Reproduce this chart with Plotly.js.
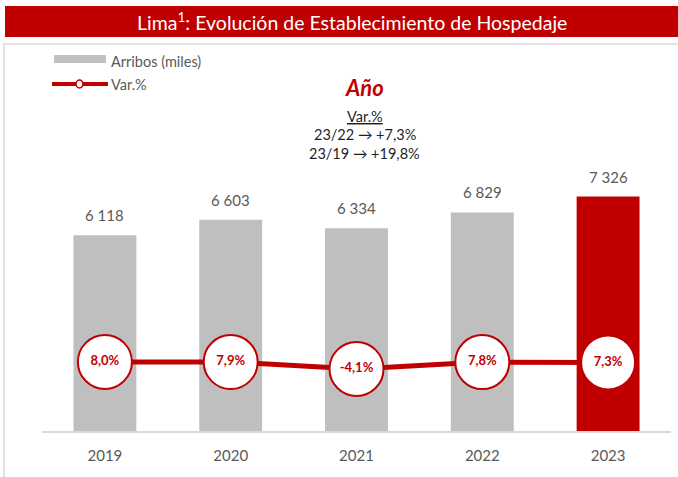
<!DOCTYPE html>
<html>
<head>
<meta charset="utf-8">
<script src="https://cdn.plot.ly/plotly-3.0.1.min.js"></script>
<style>html,body{margin:0;padding:0;background:#fff;}#chart{width:678px;height:477px;}</style>
</head>
<body>
<div id="chart"></div>
<script>
var years = [2019, 2020, 2021, 2022, 2023];
var yearLabels = ['2019', '2020', '2021', '2022', '2023'];
var arribos = [6118, 6603, 6334, 6829, 7326];
var varPct = [8.0, 7.9, -4.1, 7.8, 7.3];
var arribosLabels = ['6 118', '6 603', '6 334', '6 829', '7 326'];
var varLabels = ['8,0%', '7,9%', '-4,1%', '7,8%', '7,3%'];
var barColors = ['#BFBFBF', '#BFBFBF', '#BFBFBF', '#BFBFBF', '#C00000'];

var FONT = 'Lato, "Open Sans", sans-serif';
var RED = '#C00000';
var GRAY_TXT = '#595959';
var DARK_TXT = '#1F1F1F';

var traces = [
  {
    type: 'bar', x: years, y: arribos, name: 'Arribos (miles)',
    marker: {color: barColors}, width: 0.5, hoverinfo: 'skip', showlegend: false
  },
  {
    type: 'scatter', mode: 'lines+markers+text', x: years, y: varPct, yaxis: 'y2',
    name: 'Var.%', text: varLabels, textposition: 'middle center',
    textfont: {family: FONT, size: 13, color: RED, weight: 'bold'},
    line: {color: RED, width: 5},
    marker: {size: 54, color: '#FFFFFF', line: {color: RED, width: 2}},
    hoverinfo: 'skip', showlegend: false, cliponaxis: false
  }
];

var annotations = [];
for (var i = 0; i < years.length; i++) {
  annotations.push({
    x: years[i], y: arribos[i], xref: 'x', yref: 'y', text: arribosLabels[i],
    showarrow: false, yanchor: 'bottom', yshift: 9,
    font: {family: FONT, size: 15, color: GRAY_TXT}
  });
}
annotations.push(
  {xref: 'paper', yref: 'paper', x: 0.4928, y: 1.0664, text: 'Lima<sup>1</sup>: Evolución de Establecimiento de Hospedaje',
   showarrow: false, xanchor: 'center', yanchor: 'middle', font: {family: FONT, size: 19.5, color: '#FFFFFF'}},
  {xref: 'paper', yref: 'paper', x: 0.1065, y: 0.9635, text: 'Arribos (miles)', showarrow: false,
   xanchor: 'left', yanchor: 'middle', font: {family: FONT, size: 14.5, color: GRAY_TXT}},
  {xref: 'paper', yref: 'paper', x: 0.1065, y: 0.9036, text: 'Var.%', showarrow: false,
   xanchor: 'left', yanchor: 'middle', font: {family: FONT, size: 14.5, color: GRAY_TXT}},
  {xref: 'paper', yref: 'paper', x: 0.5135, y: 0.8958, text: '<b><i>Año</i></b>', showarrow: false,
   xanchor: 'center', yanchor: 'middle', font: {family: FONT, size: 22, color: RED}},
  {xref: 'paper', yref: 'paper', x: 0.5135, y: 0.8203, text: '<u>Var.%</u>', showarrow: false,
   xanchor: 'center', yanchor: 'middle', font: {family: FONT, size: 14.5, color: DARK_TXT}},
  {xref: 'paper', yref: 'paper', x: 0.5135, y: 0.7734, text: '23/22 → +7,3%', showarrow: false,
   xanchor: 'center', yanchor: 'middle', font: {family: FONT, size: 14.5, color: DARK_TXT}},
  {xref: 'paper', yref: 'paper', x: 0.5135, y: 0.7214, text: '23/19 → +19,8%', showarrow: false,
   xanchor: 'center', yanchor: 'middle', font: {family: FONT, size: 14.5, color: DARK_TXT}}
);

var shapes = [
  {type: 'rect', xref: 'paper', yref: 'paper', x0: -0.0604, y0: -0.3, x1: 1.05, y1: 1.0078,
   line: {color: '#D9D9D9', width: 1.5}, fillcolor: 'rgba(0,0,0,0)', layer: 'below'},
  {type: 'rect', xref: 'paper', yref: 'paper', x0: -0.0588, y0: 1.026, x1: 1.02, y1: 1.1068,
   line: {width: 0}, fillcolor: RED},
  {type: 'rect', xref: 'paper', yref: 'paper', x0: 0.0191, y0: 0.9583, x1: 0.1017, y1: 0.9792,
   line: {width: 0}, fillcolor: '#BFBFBF'},
  {type: 'line', xref: 'paper', yref: 'paper', x0: 0.0159, y0: 0.9036, x1: 0.1049, y1: 0.9036,
   line: {color: RED, width: 4}},
  {type: 'circle', xref: 'paper', yref: 'paper', x0: 0.0541, y0: 0.8932, x1: 0.0652, y1: 0.9140,
   line: {color: RED, width: 1.5}, fillcolor: '#FFFFFF'}
];

var layout = {
  width: 678, height: 477,
  margin: {l: 42, r: 7, t: 47, b: 46, pad: 0},
  paper_bgcolor: '#FFFFFF', plot_bgcolor: '#FFFFFF',
  showlegend: false,
  xaxis: {
    type: 'linear', range: [2018.5, 2023.5], tickmode: 'array', tickvals: years, ticktext: yearLabels,
    showline: true, linecolor: '#D9D9D9', linewidth: 1.5,
    ticks: '', ticklabelstandoff: 10, showgrid: false, zeroline: false,
    tickfont: {family: FONT, size: 15, color: GRAY_TXT}
  },
  yaxis: {range: [0, 12000], visible: false, showgrid: false, zeroline: false},
  yaxis2: {range: [-111, 551], overlaying: 'y', side: 'right', visible: false, showgrid: false, zeroline: false},
  annotations: annotations,
  shapes: shapes
};

Plotly.newPlot('chart', traces, layout, {displayModeBar: false, staticPlot: true});
</script>
</body>
</html>
